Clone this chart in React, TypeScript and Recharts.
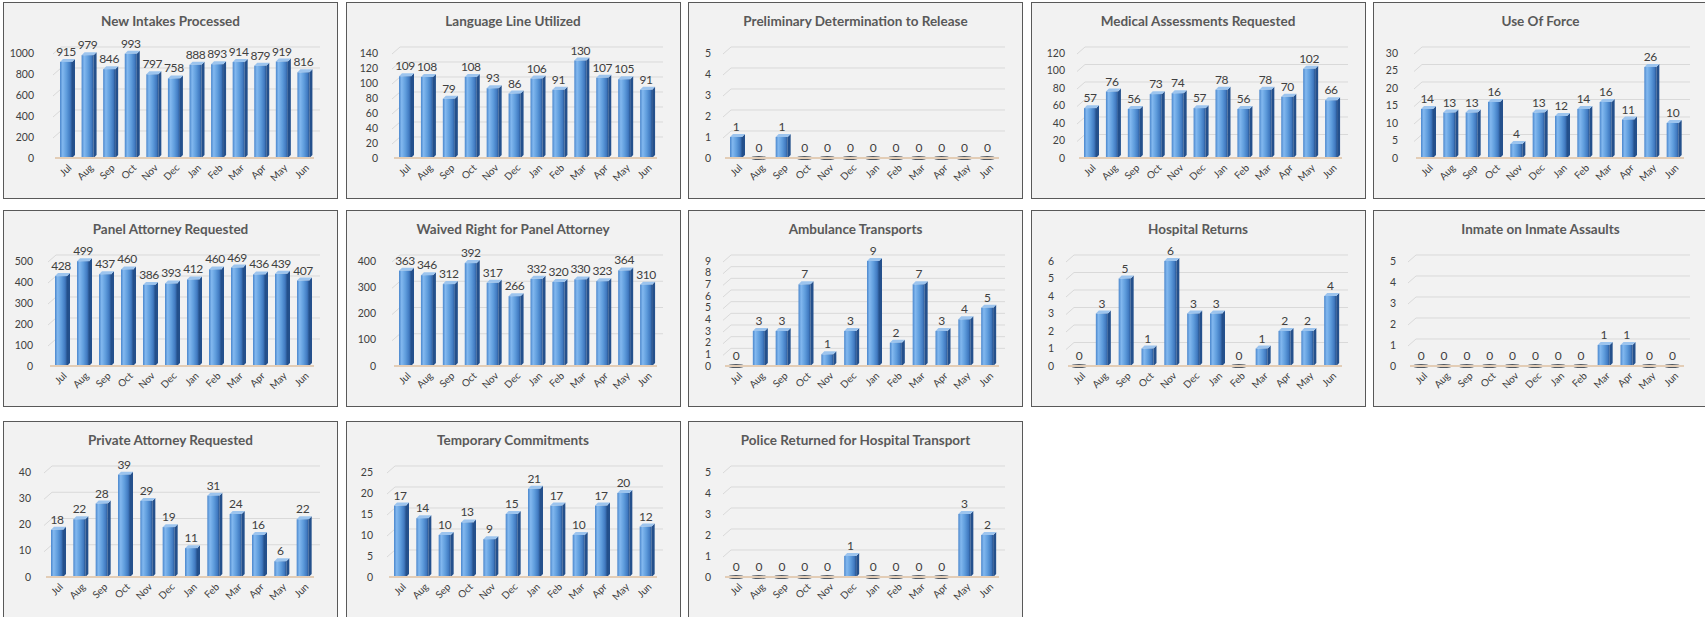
import { BarChart, Bar, XAxis, YAxis, CartesianGrid, LabelList, ReferenceLine } from 'recharts';

const months = ['Jul', 'Aug', 'Sep', 'Oct', 'Nov', 'Dec', 'Jan', 'Feb', 'Mar', 'Apr', 'May', 'Jun'];

const newIntakes = [915, 979, 846, 993, 797, 758, 888, 893, 914, 879, 919, 816];
const languageLine = [109, 108, 79, 108, 93, 86, 106, 91, 130, 107, 105, 91];
const prelimRelease = [1, 0, 1, 0, 0, 0, 0, 0, 0, 0, 0, 0];
const medicalAssess = [57, 76, 56, 73, 74, 57, 78, 56, 78, 70, 102, 66];
const useOfForce = [14, 13, 13, 16, 4, 13, 12, 14, 16, 11, 26, 10];
const panelAttorney = [428, 499, 437, 460, 386, 393, 412, 460, 469, 436, 439, 407];
const waivedPanel = [363, 346, 312, 392, 317, 266, 332, 320, 330, 323, 364, 310];
const ambulance = [0, 3, 3, 7, 1, 3, 9, 2, 7, 3, 4, 5];
const hospitalReturns = [0, 3, 5, 1, 6, 3, 3, 0, 1, 2, 2, 4];
const inmateAssaults = [0, 0, 0, 0, 0, 0, 0, 0, 1, 1, 0, 0];
const privateAttorney = [18, 22, 28, 39, 29, 19, 11, 31, 24, 16, 6, 22];
const tempCommitments = [17, 14, 10, 13, 9, 15, 21, 17, 10, 17, 20, 12];
const policeReturned = [0, 0, 0, 0, 0, 1, 0, 0, 0, 0, 3, 2];

const ticks1000 = [0, 200, 400, 600, 800, 1000];
const ticks140 = [0, 20, 40, 60, 80, 100, 120, 140];
const ticks120 = [0, 20, 40, 60, 80, 100, 120];
const ticks5 = [0, 1, 2, 3, 4, 5];
const ticks6 = [0, 1, 2, 3, 4, 5, 6];
const ticks9 = [0, 1, 2, 3, 4, 5, 6, 7, 8, 9];
const ticks30 = [0, 5, 10, 15, 20, 25, 30];
const ticks25 = [0, 5, 10, 15, 20, 25];
const ticks40 = [0, 10, 20, 30, 40];
const ticks500 = [0, 100, 200, 300, 400, 500];
const ticks400 = [0, 100, 200, 300, 400];

// julX / labelRight: first bar centre and right edge of the y labels, inside each panel
const panels = [
  { title: 'New Intakes Processed', values: newIntakes, ticks: ticks1000, julX: 62, labelRight: 30 },
  { title: 'Language Line Utilized', values: languageLine, ticks: ticks140, julX: 58, labelRight: 31 },
  { title: 'Preliminary Determination to Release', values: prelimRelease, ticks: ticks5, julX: 47, labelRight: 22 },
  { title: 'Medical Assessments Requested', values: medicalAssess, ticks: ticks120, julX: 58, labelRight: 33 },
  { title: 'Use Of Force', values: useOfForce, ticks: ticks30, julX: 53, labelRight: 24 },
  { title: 'Panel Attorney Requested', values: panelAttorney, ticks: ticks500, julX: 57, labelRight: 29 },
  { title: 'Waived Right for Panel Attorney', values: waivedPanel, ticks: ticks400, julX: 58, labelRight: 29 },
  { title: 'Ambulance Transports', values: ambulance, ticks: ticks9, julX: 47, labelRight: 22 },
  { title: 'Hospital Returns', values: hospitalReturns, ticks: ticks6, julX: 47, labelRight: 22 },
  { title: 'Inmate on Inmate Assaults', values: inmateAssaults, ticks: ticks5, julX: 47, labelRight: 22 },
  { title: 'Private Attorney Requested', values: privateAttorney, ticks: ticks40, julX: 53, labelRight: 27 },
  { title: 'Temporary Commitments', values: tempCommitments, ticks: ticks25, julX: 53, labelRight: 26 },
  { title: 'Police Returned for Hospital Transport', values: policeReturned, ticks: ticks5, julX: 47, labelRight: 22 },
];

const FONT = 'Lato, "Open Sans", sans-serif';
const PANEL_W = 335;
const PANEL_H = 197;
const ROW_TOP = [2, 210, 421];
const PLOT_RIGHT = 310;

const MonthTick = ({ x, y, payload }: any) => (
  <g transform={`translate(${x + 4},${y + 8})`}>
    <text transform="rotate(-45)" textAnchor="end" dy="0.35em" fontSize={10} fill="#404040" fontFamily={FONT}>
      {payload.value}
    </text>
  </g>
);

const makeValueTick = (right: number) => ({ y, payload }: any) => (
  <text x={right} y={y} textAnchor="end" dy="0.35em" fontSize={10.5} fill="#404040" fontFamily={FONT}>
    {payload.value}
  </text>
);

const gridLine = (props: any) => {
  const { x1, x2, y1, key } = props;
  if (props.index === 0) return <g key={key} />;
  return (
    <path
      key={key}
      d={`M${x1 - 2},${y1 + 1} L${x1 + 6},${y1 - 6} L${x2 + 6},${y1 - 6}`}
      stroke="#d9d9d9"
      strokeWidth={1}
      fill="none"
    />
  );
};

function makeBar(gid: string) {
  return (props: any) => {
    const { x, y, width, height, value } = props;
    if (!value) {
      return <ellipse cx={x + width / 2} cy={y + height} rx={width / 2 + 2.5} ry={2} fill="#27313d" opacity={0.8} />;
    }
    const d = 3;
    return (
      <g>
        <path
          d={`M${x + width},${y} L${x + width + d},${y - d} L${x + width + d},${y + height - d} L${x + width},${y + height} Z`}
          fill="#24508c"
        />
        <path d={`M${x},${y} L${x + d},${y - d} L${x + width + d},${y - d} L${x + width},${y} Z`} fill="#9cc4ee" />
        <rect x={x} y={y} width={width} height={height} fill={`url(#${gid})`} />
      </g>
    );
  };
}

function MiniChart({ idx }: { idx: number }) {
  const p = panels[idx];
  const col = idx % 5;
  const row = Math.floor(idx / 5);
  const max = p.ticks[p.ticks.length - 1];
  const plotLeft = Math.round((24 * p.julX - PLOT_RIGHT) / 23);
  const data = months.map((m, i) => ({ m, v: p.values[i] }));
  const gid = `grad${idx}`;
  return (
    <div
      style={{
        position: 'absolute',
        left: 3 + col * 342.5,
        top: ROW_TOP[row],
        width: PANEL_W,
        height: PANEL_H,
        boxSizing: 'border-box',
        border: '1px solid #595959',
        background: '#f2f2f2',
      }}
    >
      <div
        style={{
          position: 'absolute',
          top: 9,
          left: 0,
          width: '100%',
          textAlign: 'center',
          fontFamily: FONT,
          fontWeight: 700,
          fontSize: 13.5,
          lineHeight: '18px',
          color: '#595959',
        }}
      >
        {p.title}
      </div>
      <BarChart
        width={PANEL_W - 2}
        height={PANEL_H - 2}
        data={data}
        margin={{ top: 50, right: PANEL_W - 2 - PLOT_RIGHT, left: 0, bottom: 0 }}
      >
        <defs>
          <linearGradient id={gid} x1="0" y1="0" x2="1" y2="0">
            <stop offset="0%" stopColor="#4a86cc" />
            <stop offset="22%" stopColor="#82b8ef" />
            <stop offset="55%" stopColor="#5e9cdc" />
            <stop offset="85%" stopColor="#4079c0" />
            <stop offset="100%" stopColor="#28548f" />
          </linearGradient>
        </defs>
        <CartesianGrid vertical={false} horizontal={gridLine} />
        <XAxis
          dataKey="m"
          tick={<MonthTick />}
          height={40}
          tickSize={0}
          tickMargin={0}
          axisLine={false}
          tickLine={false}
          interval={0}
        />
        <YAxis
          domain={[0, max]}
          ticks={p.ticks}
          width={plotLeft}
          tickSize={0}
          axisLine={false}
          tickLine={false}
          interval={0}
          tick={makeValueTick(p.labelRight)}
        />
        <ReferenceLine y={0} stroke="#e3cdb6" strokeWidth={2} />
        <Bar dataKey="v" barSize={12} shape={makeBar(gid)} isAnimationActive={false}>
          <LabelList
            dataKey="v"
            position="top"
            offset={6}
            fill="#404040"
            fontSize={12}
            letterSpacing={-0.4}
            fontFamily={FONT}
          />
        </Bar>
      </BarChart>
    </div>
  );
}

export default function App() {
  return (
    <div style={{ position: 'absolute', left: 0, top: 0, width: 1705, height: 617, background: '#fff', overflow: 'hidden' }}>
      {panels.map((_, i) => (
        <MiniChart key={i} idx={i} />
      ))}
    </div>
  );
}
